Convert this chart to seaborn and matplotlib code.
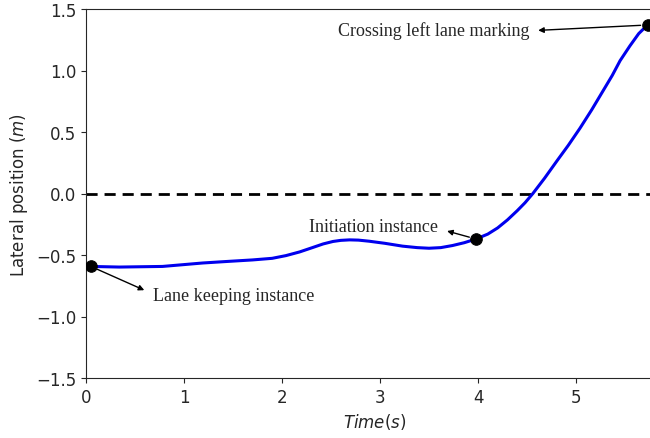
import numpy as np
import pandas as pd
import seaborn as sns
import matplotlib.pyplot as plt

# lateral position trace
time_s = [0.05, 0.34, 0.78, 1.0, 1.19, 1.45, 1.7, 1.9, 2.04, 2.18, 2.31, 2.42, 2.52,
          2.6, 2.69, 2.78, 2.89, 3.05, 3.23, 3.38, 3.5, 3.62, 3.74, 3.86, 3.98,
          4.1, 4.2, 4.3, 4.4, 4.48, 4.56, 4.68, 4.81, 4.92, 5.04, 5.16, 5.28,
          5.37, 5.45, 5.55, 5.64, 5.73]
lateral_m = [-0.593, -0.598, -0.593, -0.578, -0.565, -0.552, -0.54, -0.527, -0.505,
             -0.475, -0.44, -0.41, -0.39, -0.381, -0.377, -0.379, -0.388, -0.405,
             -0.428, -0.44, -0.445, -0.44, -0.423, -0.4, -0.37, -0.33, -0.28,
             -0.215, -0.14, -0.075, 0.0, 0.125, 0.27, 0.39, 0.53, 0.68, 0.84, 0.96,
             1.08, 1.2, 1.3, 1.37]

# key instances
event_t = [0.05, 3.98, 5.73]
event_y = [-0.593, -0.37, 1.37]
event_labels = ['Lane keeping instance', 'Initiation instance', 'Crossing left lane marking']
label_pos = [(0.68, -0.83), (2.28, -0.265), (2.57, 1.33)]
arrow_rel = [(0, 0.6), (1, 0.35), (1, 0.45)]

df = pd.DataFrame({'Time': time_s, 'Lateral': lateral_m})
events = pd.DataFrame({'Time': event_t, 'Lateral': event_y})

sns.set_style('ticks')
fig = plt.figure(figsize=(6.5, 4.39), dpi=100)
ax = fig.add_axes([86 / 650, 60 / 439, 5.9 * 98 / 650, 369 / 439])

ax.axhline(0, color='black', ls='--', lw=2, dashes=(4, 2.5))
sns.lineplot(data=df, x='Time', y='Lateral', color='#0000ee', lw=2.2, ax=ax)
sns.scatterplot(data=events, x='Time', y='Lateral', color='black', s=70,
                edgecolor='black', zorder=5, ax=ax)

for lab, px, py, pos, rel in zip(event_labels, event_t, event_y, label_pos, arrow_rel):
    ax.annotate(lab, xy=(px, py), xytext=pos, family='Liberation Serif', fontsize=13,
                va='center', ha='left',
                arrowprops=dict(arrowstyle='<|-', color='black', lw=1, relpos=rel,
                                mutation_scale=8, shrinkA=4, shrinkB=5))

ax.set_xlim(0, 5.9)
ax.set_ylim(-1.5, 1.5)
ax.set_xticks([0, 1, 2, 3, 4, 5])
ax.set_yticks(np.arange(-1.5, 1.51, 0.5))
ax.set_xlabel('$Time(s)$', fontsize=12)
ax.set_ylabel('Lateral position ($m$)', fontsize=12)
ax.tick_params(labelsize=12)

fig.savefig('out.png', dpi=100)
